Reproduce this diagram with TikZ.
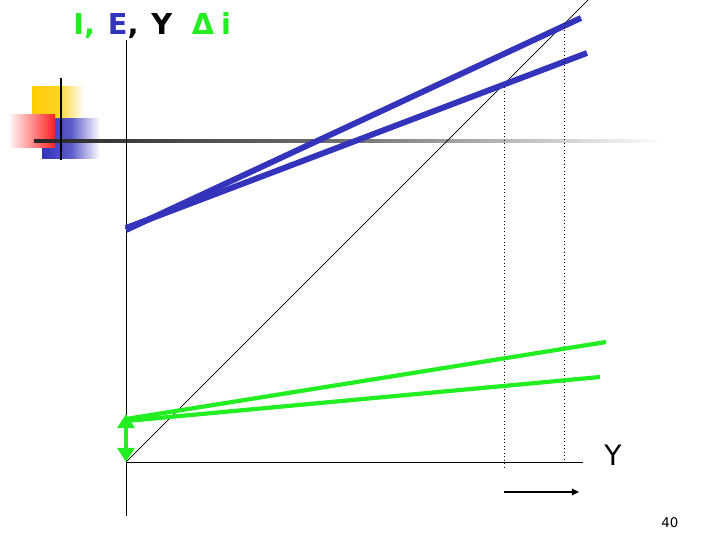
\documentclass[tikz,border=0pt]{standalone}
\usepackage{fontspec}
\setmainfont{DejaVu Sans}
\usetikzlibrary{arrows.meta}
\definecolor{bl}{HTML}{3333BB}
\definecolor{gr}{HTML}{22EE22}
\definecolor{yl}{HTML}{FFCC00}
\definecolor{rd}{HTML}{FF2020}
\tikzset{
  blueline/.style={bl, line width=4.2pt, line cap=butt},
  greenline/.style={gr, line width=3pt},
  axis/.style={black, line width=0.7pt},
  guide/.style={black, line width=0.5pt, dotted},
}
\begin{document}
\begin{tikzpicture}[x=0.025cm,y=-0.025cm]
\useasboundingbox (0,0) rectangle (720,540);
% decoration
\shade[left color=yl, right color=white, middle color=yl!85] (32,86) rectangle (84,118);
\shade[left color=bl, right color=white, middle color=bl!80] (42,118) rectangle (100,158);
\shade[left color=rd!5, right color=rd] (10,114) rectangle (55,147);
\shade[left color=black!85, right color=white, middle color=black!55] (34,139.8) rectangle (665,142.2);
\draw[black, line width=1.6pt] (61,78) -- (61,160);
% axes
\coordinate (o) at (126,462);
\coordinate (ytop) at (126,40);
\coordinate (ybot) at (126,516);
\coordinate (xend) at (583,462);
\coordinate (diag) at (588,0);
\draw[axis] (ytop) -- (ybot);
\draw[axis] (o) -- (xend);
\draw[black, line width=0.5pt] (o) -- (diag);
% blue lines
\coordinate (b1s) at (126,230); \coordinate (b1e) at (581,18);
\coordinate (b2s) at (126,228); \coordinate (b2e) at (587,53);
\draw[blueline] (b1s) -- (b1e);
\draw[blueline] (b2s) -- (b2e);
% guides
\coordinate (g1t) at (504,87); \coordinate (g1b) at (504,468);
\coordinate (g2t) at (564,23); \coordinate (g2b) at (564,462);
\draw[guide] (g1t) -- (g1b);
\draw[guide] (g2t) -- (g2b);
% green lines
\coordinate (gs1) at (126,419); \coordinate (ge1) at (606,342);
\coordinate (gs2) at (126,421); \coordinate (ge2) at (600,377);
\draw[greenline] (gs1) -- (ge1);
\draw[greenline] (gs2) -- (ge2);
\coordinate (da) at (126,462); \coordinate (db) at (126,414);
\draw[gr, line width=2.8pt, {Triangle[length=10pt,width=12pt]}-{Triangle[length=10pt,width=12pt]}] (da) -- (db);
% shift arrow
\coordinate (sa) at (504,492); \coordinate (sb) at (579,492);
\draw[black, line width=1.4pt, -{Triangle[length=5pt,width=4.5pt]}] (sa) -- (sb);
% labels
\node[anchor=base west, inner sep=0pt, font=\fontsize{20}{24}\selectfont] (ylab) at (604,465) {Y};
\node[anchor=base west, inner sep=0pt, font=\fontsize{9.5}{11}\selectfont] (num) at (661,527) {40};
\node[anchor=base west, inner sep=0pt, font=\bfseries\fontsize{20.5}{24}\selectfont] (title) at (73,34)
  {\textcolor{gr}{I,}\hspace{2pt} \textcolor{bl}{E},\hspace{2pt} Y\hspace{14pt}\textcolor{gr}{Δ\hspace{5pt}i}};
\end{tikzpicture}
\end{document}
